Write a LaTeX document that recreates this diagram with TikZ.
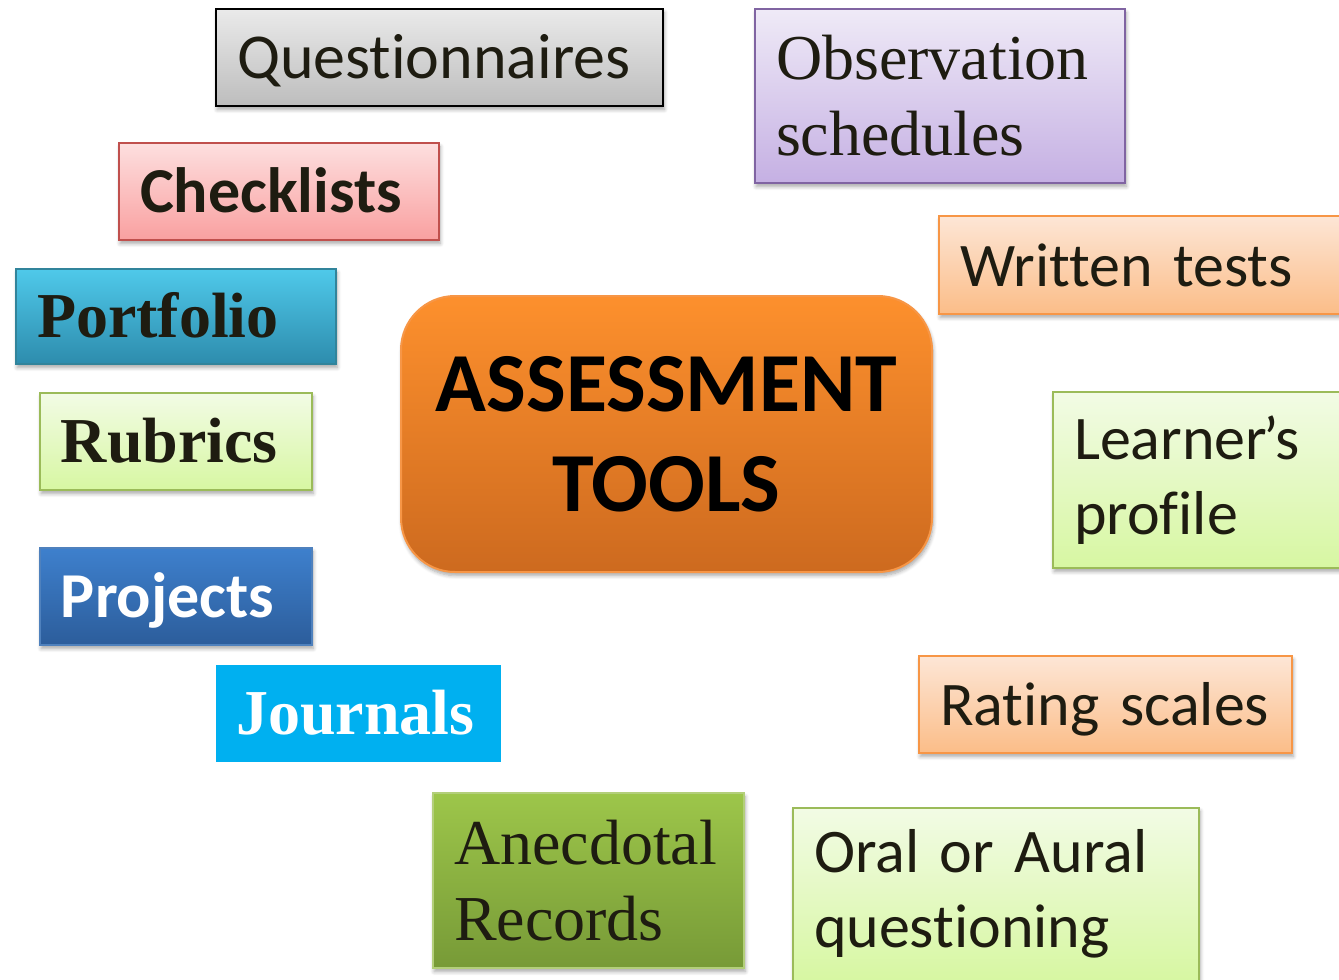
\documentclass[tikz,border=0pt]{standalone}
\usepackage{fontspec}
\setmainfont{Carlito}[Ligatures=NoCommon]
\newfontfamily\timesfont{Liberation Serif}
\usetikzlibrary{shadows.blur}

\definecolor{ink}{HTML}{1E1C11}
\definecolor{greyTop}{HTML}{EAEAEA}
\definecolor{greyBot}{HTML}{BDBDBD}
\definecolor{pinkTop}{HTML}{FDDFDF}
\definecolor{pinkBot}{HTML}{F9A0A0}
\definecolor{pinkLine}{HTML}{C0504D}
\definecolor{cyanTop}{HTML}{4FC9EA}
\definecolor{cyanBot}{HTML}{2D8CAD}
\definecolor{cyanLine}{HTML}{31849B}
\definecolor{limeTop}{HTML}{F2FBE5}
\definecolor{limeBot}{HTML}{D7F7A2}
\definecolor{limeLine}{HTML}{9BBB59}
\definecolor{blueTop}{HTML}{3E80CD}
\definecolor{blueBot}{HTML}{2C5D9B}
\definecolor{blueLine}{HTML}{4F81BD}
\definecolor{skyFill}{HTML}{00B0F0}
\definecolor{oliveTop}{HTML}{9DC64A}
\definecolor{oliveBot}{HTML}{779A37}
\definecolor{oliveLine}{HTML}{B3CF7A}
\definecolor{peachTop}{HTML}{FDE6D6}
\definecolor{peachBot}{HTML}{FBBD88}
\definecolor{peachLine}{HTML}{F79646}
\definecolor{lilacTop}{HTML}{EFEAF7}
\definecolor{lilacBot}{HTML}{C5B0E3}
\definecolor{lilacLine}{HTML}{8064A2}
\definecolor{coreTop}{HTML}{FD902D}
\definecolor{coreBot}{HTML}{CD6A1F}

\tikzset{
  tool/.style={rectangle, line width=1pt, align=left, inner xsep=10.5pt, inner ysep=0pt,
    text=ink, font=\fontsize{31}{37.5}\selectfont,
    blur shadow={shadow xshift=0.6pt, shadow yshift=-1.8pt, shadow blur steps=6, shadow opacity=35}},
  oneline/.style={text height=21pt, text depth=0pt},
  grey/.style={top color=greyTop, bottom color=greyBot, draw=black},
  pink/.style={top color=pinkTop, bottom color=pinkBot, draw=pinkLine},
  cyan/.style={top color=cyanTop, bottom color=cyanBot, draw=cyanLine},
  lime/.style={top color=limeTop, bottom color=limeBot, draw=limeLine},
  navy/.style={top color=blueTop, bottom color=blueBot, draw=blueLine, text=white},
  olive/.style={top color=oliveTop, bottom color=oliveBot, draw=oliveLine},
  peach/.style={top color=peachTop, bottom color=peachBot, draw=peachLine},
  lilac/.style={top color=lilacTop, bottom color=lilacBot, draw=lilacLine},
}

\begin{document}
\begin{tikzpicture}[x=0.5pt,y=-0.5pt]
\useasboundingbox (0,0) rectangle (1339,980);

% centre
\node[tool, top color=coreTop, bottom color=coreBot, draw=peachLine, rounded corners=27pt,
  align=center, minimum width=265.5pt, minimum height=138pt, text=black,
  font=\fontsize{42}{50}\selectfont\bfseries] (core) at (666.5,434) {ASSESSMENT\\TOOLS};

% left side
\node[tool, oneline, grey, text width=202.5pt, minimum height=48.5pt, font=\fontsize{32}{38}\selectfont] (quest) at (439.5,57.5) {Questionnaires};
\node[tool, oneline, pink, text width=139pt, minimum height=48.5pt, font=\fontsize{32}{38}\selectfont\bfseries] (check) at (279,191.5) {Checklists};
\node[tool, oneline, cyan, text width=139pt, minimum height=47.5pt, font=\fontsize{32}{38}\timesfont\bfseries] (port) at (176,316.5) {Portfolio};
\node[tool, oneline, lime, text width=115pt, minimum height=48.5pt, font=\fontsize{32}{38}\timesfont\bfseries] (rubr) at (176,441.5) {Rubrics};
\node[tool, oneline, navy, text width=115pt, minimum height=48.5pt, font=\fontsize{32}{38}\selectfont\bfseries] (proj) at (176,596.5) {Projects};
\node[tool, oneline, fill=skyFill, blur shadow={shadow opacity=0}, text=white, inner xsep=10pt, text width=122.5pt,
  minimum height=48.5pt, font=\fontsize{32}{38}\timesfont\bfseries] (journ) at (358.5,713.5) {Journals};
\node[tool, olive, text width=134.5pt, minimum height=87.5pt, font=\fontsize{32}{38}\timesfont] (anec) at (588.5,880.5) {Anecdotal\\Records};

% right side
\node[tool, lilac, text width=164pt, minimum height=87pt, font=\fontsize{32}{38}\timesfont] (obs) at (940,96) {Observation\\schedules};
\node[tool, oneline, peach, text width=187pt, minimum height=49pt] (writ) at (1147,265) {Written tests};
\node[tool, lime, text width=125pt, minimum height=88pt] (learn) at (1199,480) {Learner\kern-2pt’s\\profile};
\node[tool, oneline, peach, text width=165.5pt, minimum height=48.5pt] (rate) at (1105.5,704.5) {Rating scales};
\node[tool, lime, text width=182pt, minimum height=86.5pt] (oral) at (996,894) {Oral or Aural\\questioning};
\end{tikzpicture}
\end{document}
